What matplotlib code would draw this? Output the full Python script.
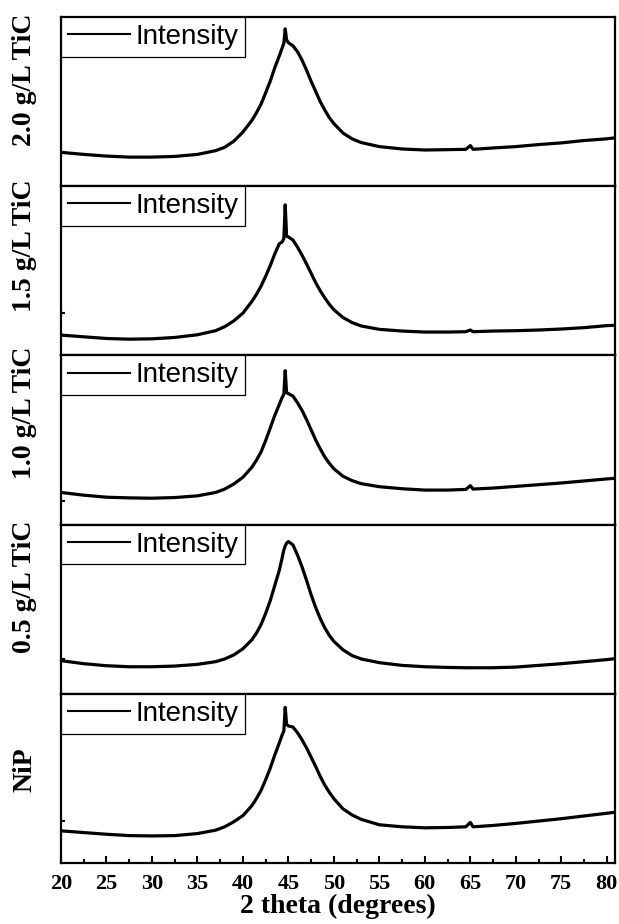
"""Stacked XRD patterns: NiP and NiP-TiC coatings at four TiC loadings."""

import matplotlib
matplotlib.use("Agg")
import matplotlib.pyplot as plt
from matplotlib.ticker import MultipleLocator

# 2 theta (degrees), shared by all patterns
TWO_THETA = [20, 22.5, 25, 27.5, 30, 32.5, 35, 37, 38, 39, 40, 41, 41.5, 42,
             42.5, 43, 43.5, 44, 44.3, 44.5, 44.65, 44.8, 45, 45.5, 46, 46.5,
             47, 47.5, 48, 48.5, 49, 49.5, 50, 51, 52, 53, 55, 57.5, 60, 62.5,
             64.5, 65, 65.3, 67.5, 70, 72.5, 75, 77.5, 80, 80.9]

# intensity (a.u.)
I_20 = [200, 188, 178, 172, 172, 176, 188, 210, 230, 266, 320, 390, 435, 486,
        552, 620, 700, 770, 815, 845, 930, 865, 848, 830, 795, 745,
        685, 620, 560, 500, 450, 405, 370, 314, 280, 258, 234, 220, 214, 216,
        218, 240, 218, 226, 234, 246, 256, 270, 280, 286]
I_15 = [120, 110, 100, 96, 98, 106, 122, 146, 170, 204, 250, 320, 362, 410,
        468, 530, 600, 660, 670, 690, 890, 705, 700, 682, 640, 592,
        540, 485, 430, 382, 340, 302, 270, 224, 194, 174, 154, 144, 138, 138,
        140, 150, 140, 144, 146, 150, 156, 164, 176, 178]
I_10 = [190, 174, 162, 158, 156, 160, 170, 190, 210, 240, 280, 340, 382, 430,
        497, 570, 645, 710, 750, 770, 910, 780, 774, 760, 720, 675,
        620, 560, 500, 448, 400, 362, 330, 286, 260, 242, 224, 212, 204, 204,
        208, 230, 210, 216, 226, 236, 246, 258, 270, 274]
I_05 = [196, 178, 166, 160, 160, 164, 174, 190, 206, 230, 266, 320, 360, 410,
        475, 550, 640, 730, 800, 850, 874, 890, 900, 880, 820, 750,
        670, 585, 510, 445, 390, 345, 310, 260, 226, 206, 184, 168, 160, 156,
        154, 154, 154, 154, 158, 168, 178, 190, 202, 208]
I_NIP = [190, 180, 170, 162, 160, 162, 174, 194, 214, 244, 280, 340, 382, 430,
         492, 560, 638, 710, 755, 780, 920, 820, 810, 804, 770, 728,
         680, 625, 570, 512, 460, 418, 380, 320, 284, 258, 226, 214, 208, 210,
         214, 240, 214, 222, 234, 248, 262, 278, 294, 300]

PATTERNS = [I_20, I_15, I_10, I_05, I_NIP]
SAMPLES = ["2.0 g/L TiC", "1.5 g/L TiC", "1.0 g/L TiC", "0.5 g/L TiC", "NiP"]
Y_TICKS = [200, 248, 140, 206, 248]
LABEL_Y = [0.63, 0.65, 0.66, 0.63, 0.55]

SERIF = "Liberation Serif"
SANS = "Liberation Sans"


def main():
    fig, axes = plt.subplots(len(PATTERNS), 1, sharex=True,
                             figsize=(6.19, 9.24), dpi=100)
    fig.subplots_adjust(left=0.0985, right=0.9935, top=0.9816, bottom=0.066,
                        hspace=0)

    for i, (ax, y, name) in enumerate(zip(axes, PATTERNS, SAMPLES)):
        ax.plot(TWO_THETA, y, color="black", lw=2.3, label="Intensity",
                solid_joinstyle="round")
        ax.set_xlim(20, 80.9)
        ax.set_ylim(0, 1000)
        for s in ax.spines.values():
            s.set_linewidth(1.6)
        ax.set_yticks([Y_TICKS[i]])
        ax.set_yticklabels([])
        ax.tick_params(axis="y", direction="in", length=3, width=1.5)
        ax.text(-0.065, LABEL_Y[i], name, transform=ax.transAxes, rotation=90,
                ha="center", va="center", fontsize=20, fontweight="bold",
                family=SERIF)
        leg = ax.legend(loc="upper left", borderaxespad=0, fancybox=False,
                        framealpha=1, edgecolor="black", handlelength=2.25,
                        handletextpad=0.18, borderpad=0.25,
                        prop={"family": SANS, "size": 20})
        leg.get_frame().set_linewidth(0.9)
        leg.get_lines()[0].set_linewidth(1.5)
        if ax is not axes[-1]:
            ax.tick_params(axis="x", which="both", bottom=False)

    bot = axes[-1]
    bot.xaxis.set_major_locator(MultipleLocator(5))
    bot.xaxis.set_minor_locator(MultipleLocator(2.5))
    bot.tick_params(axis="x", which="major", direction="in", length=5,
                    width=1.5, pad=8)
    bot.tick_params(axis="x", which="minor", direction="in", length=3,
                    width=1.5)
    for lab in bot.get_xticklabels():
        lab.set_fontfamily(SERIF)
        lab.set_fontweight("bold")
        lab.set_fontsize(16)
    bot.set_xlabel("2 theta (degrees)", fontsize=20, fontweight="bold",
                   family=SERIF, labelpad=0)

    fig.savefig("out.png", dpi=100)


if __name__ == "__main__":
    main()
